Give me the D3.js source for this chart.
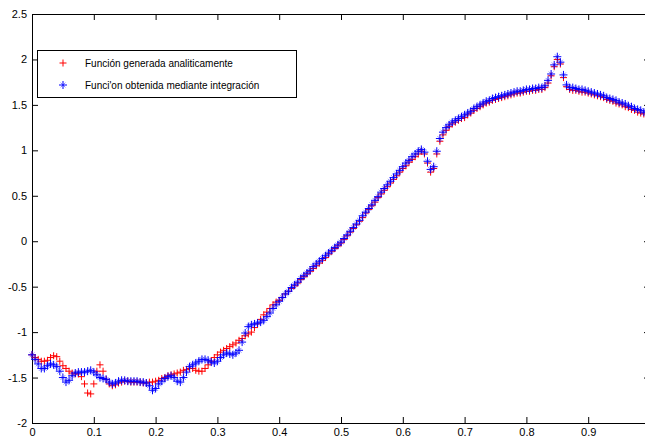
<!DOCTYPE html>
<html>
<head>
<meta charset="utf-8">
<script src="https://cdn.jsdelivr.net/npm/d3@7/dist/d3.min.js"></script>
<style>
  body { margin: 0; background: #fff; }
  svg { display: block; }
  .axis text { font-family: "Liberation Sans", Arial, sans-serif; font-size: 11px; fill: #000; }
  .axis path, .axis line { stroke: #000; }
  .legend text { font-family: "Liberation Sans", Arial, sans-serif; font-size: 10px; fill: #000; }
</style>
</head>
<body>
<div id="chart"></div>
<script>
// sampling step of both series (x = i * step)
var step = 0.005;

var seriesNames = ["Función generada analiticamente", "Funci'on obtenida mediante integración"];

// red "+" : analytic function
var redVals = [
  -1.25,-1.28,-1.30,-1.32,-1.32,-1.31,-1.28,-1.26,-1.27,-1.32,
  -1.37,-1.40,-1.43,-1.45,-1.46,-1.46,-1.49,-1.57,-1.67,-1.68,
  -1.57,-1.43,-1.36,-1.43,-1.52,-1.57,-1.59,-1.58,-1.56,-1.55,
  -1.54,-1.54,-1.55,-1.55,-1.55,-1.55,-1.56,-1.56,-1.55,-1.55,
  -1.54,-1.53,-1.51,-1.50,-1.48,-1.47,-1.46,-1.45,-1.44,-1.42,
  -1.41,-1.40,-1.40,-1.42,-1.43,-1.43,-1.40,-1.36,-1.32,-1.28,
  -1.25,-1.22,-1.20,-1.18,-1.16,-1.14,-1.12,-1.09,-1.07,-1.04,
  -1.02,-1.00,-0.95,-0.91,-0.86,-0.81,-0.78,-0.74,-0.70,-0.67,
  -0.65,-0.62,-0.58,-0.55,-0.52,-0.49,-0.46,-0.42,-0.39,-0.36,
  -0.33,-0.30,-0.27,-0.24,-0.21,-0.18,-0.14,-0.11,-0.08,-0.05,
  -0.02,0.02,0.06,0.10,0.14,0.18,0.22,0.26,0.31,0.35,
  0.39,0.43,0.48,0.52,0.56,0.60,0.64,0.68,0.72,0.76,
  0.80,0.83,0.87,0.90,0.93,0.96,0.99,0.96,0.86,0.76,
  0.80,0.96,1.10,1.17,1.22,1.26,1.29,1.31,1.33,1.35,
  1.36,1.39,1.41,1.44,1.46,1.48,1.50,1.52,1.53,1.55,
  1.56,1.57,1.58,1.59,1.60,1.61,1.62,1.63,1.63,1.64,
  1.65,1.65,1.66,1.66,1.67,1.67,1.69,1.74,1.82,1.92,
  2.00,1.95,1.80,1.70,1.67,1.66,1.66,1.65,1.64,1.64,
  1.63,1.62,1.61,1.60,1.59,1.58,1.56,1.55,1.54,1.52,
  1.51,1.50,1.48,1.47,1.45,1.44,1.42,1.41,1.40
];

// blue "*" : function from integration
var blueVals = [
  -1.25,-1.30,-1.35,-1.40,-1.40,-1.37,-1.35,-1.36,-1.38,-1.43,
  -1.50,-1.55,-1.53,-1.48,-1.45,-1.44,-1.44,-1.44,-1.43,-1.42,
  -1.44,-1.47,-1.50,-1.51,-1.52,-1.55,-1.57,-1.56,-1.54,-1.53,
  -1.53,-1.54,-1.54,-1.54,-1.54,-1.55,-1.55,-1.56,-1.59,-1.64,
  -1.62,-1.57,-1.54,-1.51,-1.49,-1.48,-1.50,-1.54,-1.55,-1.50,
  -1.44,-1.38,-1.36,-1.34,-1.32,-1.30,-1.30,-1.31,-1.33,-1.34,
  -1.32,-1.28,-1.25,-1.23,-1.24,-1.25,-1.23,-1.20,-1.11,-1.01,
  -0.94,-0.92,-0.91,-0.90,-0.89,-0.87,-0.83,-0.79,-0.74,-0.70,
  -0.66,-0.62,-0.58,-0.55,-0.51,-0.48,-0.45,-0.41,-0.38,-0.35,
  -0.32,-0.28,-0.25,-0.22,-0.19,-0.16,-0.13,-0.10,-0.07,-0.04,
  -0.01,0.03,0.07,0.11,0.15,0.19,0.23,0.28,0.32,0.36,
  0.40,0.45,0.49,0.54,0.58,0.62,0.66,0.70,0.74,0.78,
  0.82,0.86,0.89,0.93,0.96,0.99,1.01,0.98,0.88,0.79,
  0.82,0.99,1.13,1.20,1.25,1.28,1.31,1.33,1.35,1.37,
  1.39,1.41,1.43,1.46,1.48,1.50,1.52,1.54,1.55,1.57,
  1.58,1.59,1.60,1.61,1.62,1.63,1.64,1.65,1.65,1.66,
  1.67,1.67,1.68,1.68,1.69,1.69,1.71,1.77,1.84,1.94,
  2.03,1.97,1.83,1.72,1.69,1.69,1.68,1.67,1.67,1.66,
  1.65,1.64,1.63,1.62,1.61,1.60,1.58,1.57,1.56,1.55,
  1.53,1.52,1.51,1.49,1.48,1.46,1.45,1.44,1.42
];

var xTicks = [0, 0.1, 0.2, 0.3, 0.4, 0.5, 0.6, 0.7, 0.8, 0.9];
var yTicks = [-2, -1.5, -1, -0.5, 0, 0.5, 1, 1.5, 2, 2.5];

var W = 645, H = 438;
// plot box edges (right edge falls just outside the window, as in the original)
var boxL = 32, boxT = 14, boxR = 650, boxB = 423;

var x = d3.scaleLinear().domain([0, 1]).range([boxL, boxR]);
var y = d3.scaleLinear().domain([-2, 2.5]).range([boxB, boxT]);

var svg = d3.select("#chart").append("svg")
  .attr("width", W)
  .attr("height", H);

var fmt = function(d) { return String(d); };

// box: ticks point inward on all four sides
svg.append("g")
  .attr("class", "axis")
  .attr("transform", "translate(0," + boxB + ")")
  .call(d3.axisBottom(x).tickValues(xTicks).tickFormat(fmt).tickSizeInner(-6).tickSizeOuter(0).tickPadding(5));

svg.append("g")
  .attr("class", "axis")
  .attr("transform", "translate(0," + boxT + ")")
  .call(d3.axisTop(x).tickValues(xTicks).tickFormat("").tickSizeInner(-6).tickSizeOuter(0));

svg.append("g")
  .attr("class", "axis")
  .attr("transform", "translate(" + boxL + ",0)")
  .call(d3.axisLeft(y).tickValues(yTicks).tickFormat(fmt).tickSizeInner(-6).tickSizeOuter(0).tickPadding(5));

svg.append("g")
  .attr("class", "axis")
  .attr("transform", "translate(" + boxR + ",0)")
  .call(d3.axisRight(y).tickValues(yTicks).tickFormat("").tickSizeInner(-6).tickSizeOuter(0));

// marker shapes
function plusPath(r) {
  return "M" + (-r) + ",0H" + r + "M0," + (-r) + "V" + r;
}
function crossPath(r) {
  return "M" + (-r) + "," + (-r) + "L" + r + "," + r + "M" + (-r) + "," + r + "L" + r + "," + (-r);
}

function toPoints(vals) {
  return vals.map(function(v, i) { return { x: i * step, y: v }; });
}

function drawStar(g, r) {
  g.append("path")
    .attr("d", crossPath(r * 0.6))
    .attr("stroke", "#0000ff")
    .attr("stroke-opacity", 0.45)
    .attr("fill", "none");
  g.append("path")
    .attr("d", plusPath(r))
    .attr("stroke", "#0000ff")
    .attr("fill", "none");
}

svg.append("g").selectAll("path")
  .data(toPoints(redVals))
  .enter()
  .append("path")
  .attr("d", plusPath(3.5))
  .attr("transform", function(d) { return "translate(" + x(d.x) + "," + y(d.y) + ")"; })
  .attr("stroke", "#ff0000")
  .attr("stroke-width", 1)
  .attr("fill", "none");

svg.append("g").selectAll("g")
  .data(toPoints(blueVals))
  .enter()
  .append("g")
  .attr("transform", function(d) { return "translate(" + x(d.x) + "," + y(d.y) + ")"; })
  .each(function() { drawStar(d3.select(this), 4); });

// legend
var legend = svg.append("g").attr("class", "legend");
legend.append("rect")
  .attr("x", 37.5).attr("y", 50.5)
  .attr("width", 259).attr("height", 47)
  .attr("fill", "#fff").attr("stroke", "#000");

legend.append("path")
  .attr("d", plusPath(3.5))
  .attr("transform", "translate(63,63)")
  .attr("stroke", "#ff0000")
  .attr("fill", "none");
drawStar(legend.append("g").attr("transform", "translate(63,85)"), 4);

legend.selectAll("text")
  .data(seriesNames)
  .enter()
  .append("text")
  .attr("x", 85)
  .attr("y", function(d, i) { return 63 + i * 22; })
  .attr("dy", "0.35em")
  .text(function(d) { return d; });
</script>
</body>
</html>
